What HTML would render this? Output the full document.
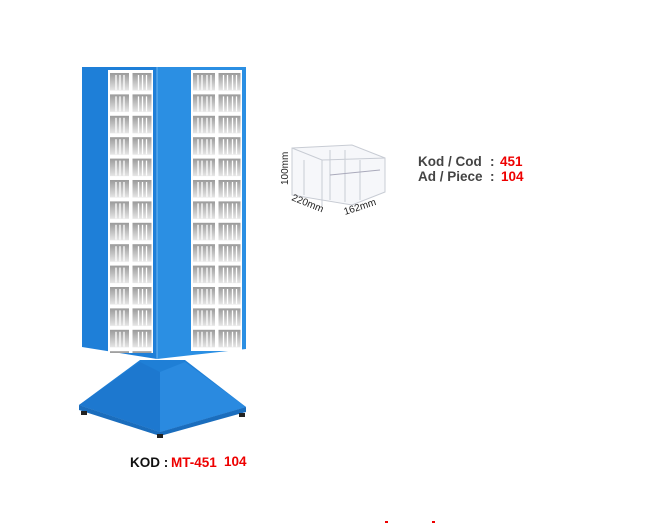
<!DOCTYPE html>
<html><head><meta charset="utf-8"><style>
body{margin:0;background:#fff;width:660px;height:524px;overflow:hidden;font-family:"Liberation Sans",Arial,sans-serif}
</style></head><body>
<svg width="660" height="524" viewBox="0 0 660 524" xmlns="http://www.w3.org/2000/svg">
<defs>
<linearGradient id="dr" x1="0" y1="0" x2="0" y2="1">
<stop offset="0" stop-color="#9a9a9a"/><stop offset="1" stop-color="#e6e6e6"/>
</linearGradient>
<pattern id="cellL" x="108" y="71" width="22.5" height="21.4" patternUnits="userSpaceOnUse">
<rect width="22.5" height="21.4" fill="#fff"/>
<rect x="2" y="2" width="19" height="17.5" fill="url(#dr)"/>
<path d="M8 4v15M12 4v15M16 4v15" stroke="#fff" stroke-width="1.3"/>
</pattern>
<pattern id="cellR" x="191" y="71" width="25.5" height="21.4" patternUnits="userSpaceOnUse">
<rect width="25.5" height="21.4" fill="#fff"/>
<rect x="2" y="2" width="22" height="17.5" fill="url(#dr)"/>
<path d="M7 4v15M11 4v15M16 4v15M20 4v15" stroke="#fff" stroke-width="1.3"/>
</pattern>
</defs>
<!-- base pyramid -->
<polygon points="140,360 185,360 246,407 160,432 79,405" fill="#1f7fd6"/>
<polygon points="140,362 79,405 160,432 160,372" fill="#1d78cf"/>
<polygon points="160,372 185,362 246,407 160,432" fill="#2a8ae0"/>
<polygon points="79,405 160,432 160,436 79,410" fill="#1a6dbd"/>
<polygon points="160,432 246,407 246,412 160,436" fill="#1a6dbd"/>
<rect x="81" y="411" width="6" height="4" fill="#222"/>
<rect x="157" y="434" width="6" height="4" fill="#222"/>
<rect x="239" y="413" width="6" height="4" fill="#222"/>
<!-- cabinet -->
<polygon points="82,67 157,67 157,359 82,347" fill="#1e7fd8"/>
<polygon points="157,67 246,67 246,349 157,359" fill="#2b8fe3"/>
<line x1="157" y1="67" x2="157" y2="359" stroke="#6db4ef" stroke-width="1"/>
<rect x="108" y="70" width="45" height="283" fill="url(#cellL)"/>
<rect x="191" y="70" width="51" height="281" fill="url(#cellR)"/>
<!-- bin -->
<g fill="none" stroke="#c8ccd4" stroke-width="1">
<polygon points="292,148 352,145 385,158 385,192 352,205 292,195" fill="#f6f7fa"/>
<path d="M292,148 L322,160 L385,158 M322,160 L322,206 M330,150v50 M345,150v52 M360,160v40 M304,160v35"/>
<path d="M330,175 L380,170" stroke="#aab"/>
</g>
<text x="0" y="0" transform="translate(288,185) rotate(-90)" font-size="10" fill="#222">100mm</text>
<text x="0" y="0" transform="translate(291,200) rotate(22)" font-size="10" fill="#222">220mm</text>
<text x="0" y="0" transform="translate(345,215) rotate(-18)" font-size="10" fill="#222">162mm</text>
<g font-weight="bold" font-size="13.5">
<text x="418" y="166" fill="#444">Kod / Cod</text>
<text x="490" y="166" fill="#444">:</text>
<text x="500" y="166" fill="#e00">451</text>
<text x="418" y="181" fill="#444">Ad / Piece</text>
<text x="490" y="181" fill="#444">:</text>
<text x="501" y="181" fill="#e00">104</text>
<text x="130" y="467" fill="#111">KOD :</text>
<text x="171" y="467" fill="#e00">MT-451</text>
<text x="224" y="466" fill="#e00">104</text>
</g>
<rect x="385" y="521" width="3" height="2" fill="#e00"/>
<rect x="432" y="521" width="3" height="2" fill="#e00"/>
</svg>
</body></html>
